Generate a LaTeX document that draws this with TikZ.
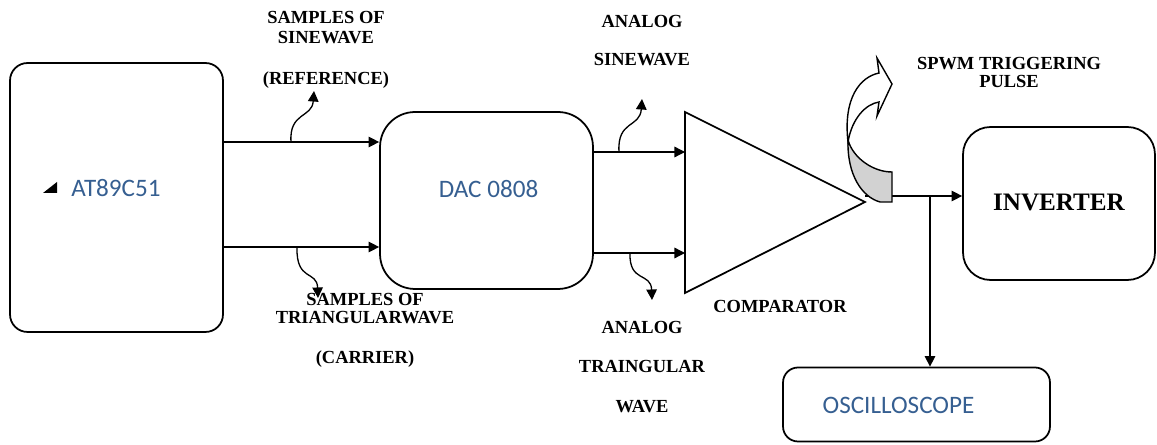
\documentclass[tikz,border=0pt]{standalone}
\usepackage{fontspec}
\setmainfont{Liberation Serif}
\newfontfamily\carlito{Carlito}
\usepackage{tikz}
\usetikzlibrary{arrows.meta,calc}
\definecolor{wordblue}{RGB}{54,95,145}
\definecolor{backgray}{RGB}{210,210,210}

\tikzset{
  unit/.style={draw, line width=1pt, inner sep=0pt},
  sig/.style={line width=0.75pt, -{Triangle[length=6pt,width=6pt]}},
  wiggle/.style={line width=0.75pt, -{Triangle[length=6pt,width=6pt]}},
  lbl/.style={font=\fontsize{10.5}{11.3}\selectfont\bfseries, align=center, inner sep=0pt},
  bluetxt/.style={font=\carlito\fontsize{14.3}{16}\selectfont, text=wordblue, inner sep=0pt}
}

\begin{document}
\begin{tikzpicture}[x=0.02cm,y=-0.02cm]
\useasboundingbox (0,0) rectangle (1157,445);

% blocks
\node[unit, minimum width=4.26cm, minimum height=5.38cm, rounded corners=0.35cm] (mcu) at (116.5,197.5) {};
\node[unit, minimum width=4.26cm, minimum height=3.54cm, rounded corners=0.7cm] (dac) at (486.5,200.5) {};
\node[unit, minimum width=3.84cm, minimum height=3.06cm, rounded corners=0.55cm,
      font=\fontsize{14.3}{16}\selectfont\bfseries] (inv) at (1059,203.5) {\raisebox{0.05cm}{INVERTER}};
\node[unit, minimum width=5.34cm, minimum height=1.48cm, rounded corners=0.3cm] (scope) at (916.5,404.5) {};

\fill (43,193) -- (57,193) -- (57,182) -- cycle;
\node[bluetxt] (mcutxt) at (116,188) {AT89C51};
\node[bluetxt] (dactxt) at (488.5,189) {DAC 0808};
\node[bluetxt] (scopetxt) at (898.5,405) {OSCILLOSCOPE};

% comparator
\coordinate (cmptop) at (685,112);
\coordinate (cmpbot) at (685,293);
\coordinate (cmpout) at (865,202);
\draw[line width=1pt] (cmptop) -- (cmpout) -- (cmpbot) -- cycle;
\node[lbl] (cmplbl) at (780,306) {COMPARATOR};

% signal wires
\coordinate (refw) at (291,142);
\coordinate (carw) at (297,247);
\coordinate (sinw) at (619,152);
\coordinate (triw) at (630,253);
\draw[sig] (mcu.east |- refw) -- (dac.west |- refw);
\draw[sig] (mcu.east |- carw) -- (dac.west |- carw);
\draw[sig] (dac.east |- sinw) -- (cmptop |- sinw);
\draw[sig] (dac.east |- triw) -- (cmptop |- triw);

\coordinate (pulse) at (865,196);
\coordinate (tap) at (930,196);
\draw[sig] (pulse) -- (inv.west |- pulse);
\draw[sig] (tap) -- (tap |- scope.north);

% wavy pointers
\coordinate (refend) at (314,91);
\coordinate (carend) at (318,298);
\coordinate (sinend) at (642,99);
\coordinate (triend) at (652,300);
\draw[wiggle] (refw) .. controls (289,112) and (312,118) .. (refend);
\draw[wiggle] (carw) .. controls (296,282) and (317,270) .. (carend);
\draw[wiggle] (sinw) .. controls (617,120) and (640,128) .. (sinend);
\draw[wiggle] (triw) .. controls (629,283) and (651,272) .. (triend);

% curved block arrow
\draw[line width=0.8pt, fill=backgray] (892,172) -- (892,202) -- (880,202)
  .. controls (862,197) and (847,175) .. (848,140)
  .. controls (853,158) and (873,172) .. (892,172) -- cycle;
\draw[line width=0.8pt, fill=white] (848,142) .. controls (843,98) and (860,77) .. (879,73)
  -- (877,58) -- (892,84) -- (877,116) -- (879,102)
  .. controls (866,104) and (852,118) .. (848,142) -- cycle;

% labels
\node[lbl] (reflbl) at (326,50) {SAMPLES OF\\SINEWAVE\\[11.9pt](REFERENCE)};
\node[lbl] (carlbl) at (365,330.5) {SAMPLES OF\\[-1.1pt]TRIANGULARWAVE\\[11.4pt](CARRIER)};
\node[lbl] (sinlbl) at (642,40.5) {ANALOG\\[10.8pt]SINEWAVE};
\node[lbl] (trilbl) at (642,367) {ANALOG\\[11.4pt]TRAINGULAR\\[11.4pt]WAVE};
\node[lbl] (pwmlbl) at (1009,72.5) {SPWM TRIGGERING\\[-0.5pt]PULSE};
\end{tikzpicture}
\end{document}
